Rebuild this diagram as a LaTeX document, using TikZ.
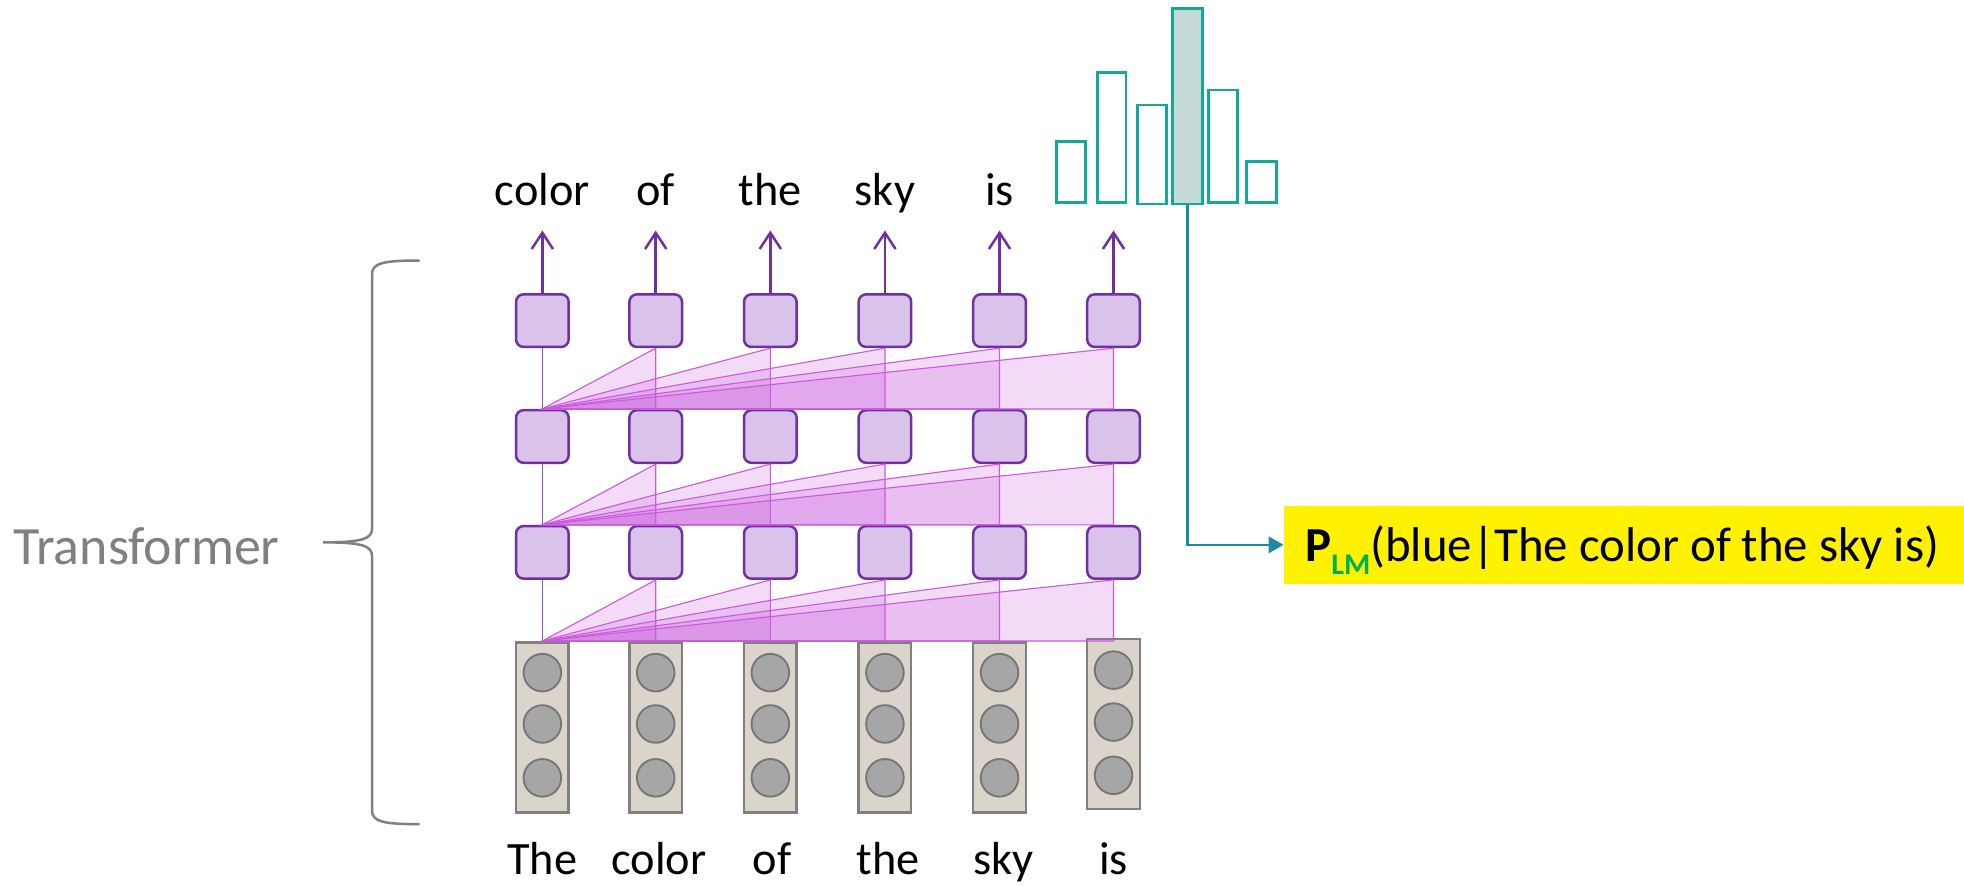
\documentclass[tikz,border=0pt]{standalone}
\usepackage{fontspec}
\setmainfont{Carlito}
\usetikzlibrary{arrows.meta}
\definecolor{vpurple}{RGB}{112,48,160}
\definecolor{hfill}{RGB}{217,195,235}
\definecolor{egray}{RGB}{128,128,128}
\definecolor{efill}{RGB}{218,212,202}
\definecolor{cgray}{RGB}{118,118,118}
\definecolor{cfill}{RGB}{166,166,166}
\definecolor{attline}{RGB}{204,90,222}
\definecolor{attfill}{RGB}{200,90,220}
\definecolor{tealbar}{RGB}{20,168,152}
\definecolor{barfill}{RGB}{197,217,216}
\definecolor{conncol}{RGB}{30,138,158}
\definecolor{lmgreen}{RGB}{0,176,80}
\definecolor{tgray}{RGB}{128,128,128}
\begin{document}
\begin{tikzpicture}[x=1pt,y=1pt,
  hbox/.style={draw=vpurple, fill=hfill, line width=2pt, rounded corners=6pt, minimum width=42pt, minimum height=42pt, inner sep=0pt},
  ebox/.style={draw=egray, fill=efill, line width=2pt, minimum width=42pt, minimum height=136pt, inner sep=0pt},
  dot/.style={circle, draw=cgray, fill=cfill, line width=1.5pt, minimum size=30pt, inner sep=0pt},
  word/.style={font=\fontsize{37}{42}\selectfont, anchor=base, inner sep=0pt},
  att/.style={draw=attline, line width=0.9pt, fill=attfill, fill opacity=0.22},
  vlink/.style={draw=vpurple!80, line width=1.2pt},
  uparrow/.style={draw=vpurple, line width=2pt, -{Straight Barb[length=13pt,width=17pt]}},
  barbox/.style={draw=tealbar, line width=2.2pt, minimum width=23pt, inner sep=0pt, anchor=south},
  conn/.style={draw=conncol, line width=2pt, -{Triangle[length=12pt,width=13pt]}},
  ybox/.style={fill=yellow, minimum width=543pt, minimum height=62pt, inner sep=0pt},
  brace/.style={draw=tgray, line width=2pt}
]
\useasboundingbox (0,0) rectangle (1568,707);

% columns
\foreach \x [count=\i] in {433,523.5,615,706.5,798,889} {
  \node[hbox] (r\i) at (\x,451) {};
  \node[hbox] (m\i) at (\x,358.5) {};
  \node[hbox] (l\i) at (\x,266) {};
  \coordinate (tip\i) at (\x,523);
}
\foreach \x [count=\i] in {433,523.5,615,706.5,798} {
  \node[ebox] (e\i) at (\x,126.2) {};
  \node[dot] (ea\i) at (\x,170) {};
  \node[dot] (eb\i) at (\x,129) {};
  \node[dot] (ec\i) at (\x,86) {};
}
\node[ebox] (e6) at (889,129) {};
\node[dot] (ea6) at (889,172) {};
\node[dot] (eb6) at (889,130.5) {};
\node[dot] (ec6) at (889,88) {};

% attention triangles
\foreach \j in {2,...,6} {
  \path[att] (e1.north) -- (e1.north -| e\j.north) -- (l\j.south) -- cycle;
  \path[att] (l1.north) -- (l\j.north) -- (m\j.south) -- cycle;
  \path[att] (m1.north) -- (m\j.north) -- (r\j.south) -- cycle;
}
\draw[vlink] (l1.south) -- (e1.north);
\draw[vlink] (m1.south) -- (l1.north);
\draw[vlink] (r1.south) -- (m1.north);

% output arrows
\foreach \i in {1,...,6} {
  \draw[uparrow] (r\i.north) -- (tip\i);
}

% top words
\node[word] (o1) at (433,542.8) {color};
\node[word] (o2) at (523.5,542.8) {of};
\node[word] (o3) at (615,542.8) {the};
\node[word] (o4) at (706.5,542.8) {sky};
\node[word] (o5) at (798,542.8) {is};

% bottom words
\node[word] (w1) at (433,8.5) {The};
\node[word] (w2) at (526,8.5) {color};
\node[word] (w3) at (616.5,8.5) {of};
\node[word] (w4) at (709,8.5) {the};
\node[word] (w5) at (801,8.5) {sky};
\node[word] (w6) at (889,8.5) {is};

% histogram
\node[barbox, minimum height=49pt] (b1) at (855,544) {};
\node[barbox, minimum height=104pt] (b2) at (887.5,544) {};
\node[barbox, minimum height=79pt] (b3) at (919.5,543) {};
\node[barbox, minimum height=156pt, fill=barfill, minimum width=24pt] (b4) at (948,543) {};
\node[barbox, minimum height=90pt] (b5) at (976.5,544) {};
\node[barbox, minimum height=33pt, minimum width=24pt] (b6) at (1007,544) {};

% output probability
\node[ybox] (yb) at (1296.5,272) {};
\node[anchor=base west, inner sep=0pt, font=\fontsize{39}{44}\selectfont] (plm) at (1042,258.6)
  {\textbf{P}\raisebox{-10.6pt}{\fontsize{24}{24}\selectfont\bfseries\color{lmgreen}LM}(blue|The color of the sky is)};
\draw[conn] (b4.south) |- (yb.west);

% brace and label
\draw[brace] (335,499) .. controls (306,499) and (297,497) .. (297,488)
  -- (297,285) .. controls (297,277) and (290,274) .. (258,274)
  .. controls (290,274) and (297,271) .. (297,263)
  -- (297,60) .. controls (297,51) and (306,49) .. (335,49);
\node[anchor=base, inner sep=0pt, text=tgray, font=\fontsize{43}{48}\selectfont] (tr) at (117,256) {Transformer};
\end{tikzpicture}
\end{document}
